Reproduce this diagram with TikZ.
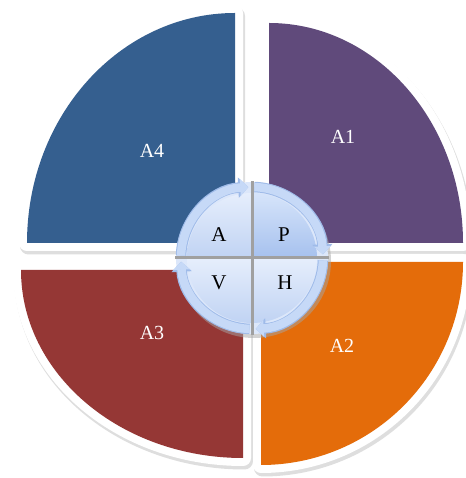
\documentclass[tikz,border=0pt]{standalone}
\usepackage{fontspec}
\setmainfont{Liberation Serif}
\usetikzlibrary{arrows.meta}
\definecolor{cAone}{HTML}{604A7B}
\definecolor{cAtwo}{HTML}{E46C0A}
\definecolor{cAthree}{HTML}{953735}
\definecolor{cAfour}{HTML}{355F8F}
\definecolor{ringc}{HTML}{C6D9F7}
\definecolor{ringe}{HTML}{9FBBE9}
\definecolor{basec}{HTML}{DCE7FA}
\definecolor{gapc}{HTML}{A0A0A0}
\definecolor{qtop}{HTML}{E6EEFC}
\definecolor{qbot}{HTML}{C0D3F3}
\definecolor{ptop}{HTML}{D6E4FA}
\definecolor{pbot}{HTML}{A6C1EE}
\begin{document}
\begin{tikzpicture}[x=1pt,y=1pt,
  sectorlabel/.style={text=white,font=\fontsize{20}{24}\selectfont,inner sep=0pt},
  quadlabel/.style={text=black,font=\fontsize{21}{24}\selectfont,inner sep=0pt},
  secshadow/.style={draw=black!13,line width=17pt,line join=round},
  secborder/.style={draw=white,line width=16pt,line join=round},
  ringedge/.style={draw=ringe,line width=10.5pt,-{Triangle[width=20pt,length=10pt]}},
  ringarrow/.style={draw=ringc,line width=8.5pt,-{Triangle[width=16.5pt,length=8pt]}},
  gapline/.style={draw=gapc,line width=3pt}]
\useasboundingbox (0,0) rectangle (465,478);
% sector shadows
\foreach \cx/\cy/\rx/\ry/\sa/\ea in {235/235/208/230/90/180,269/235/194/220/90/0,261/216/202/203/0/-90,243/208/222/188/270/180}{
  \draw[secshadow,shift={(1.5,-3)}] (\cx,\cy) -- ++(\sa:\rx pt and \ry pt) arc[start angle=\sa,end angle=\ea,x radius=\rx pt,y radius=\ry pt] -- cycle;
}
% white borders
\foreach \cx/\cy/\rx/\ry/\sa/\ea in {235/235/208/230/90/180,269/235/194/220/90/0,261/216/202/203/0/-90,243/208/222/188/270/180}{
  \draw[secborder] (\cx,\cy) -- ++(\sa:\rx pt and \ry pt) arc[start angle=\sa,end angle=\ea,x radius=\rx pt,y radius=\ry pt] -- cycle;
}
% fills
\foreach \cx/\cy/\rx/\ry/\sa/\ea/\col in {235/235/208/230/90/180/cAfour,269/235/194/220/90/0/cAone,261/216/202/203/0/-90/cAtwo,243/208/222/188/270/180/cAthree}{
  \fill[\col] (\cx,\cy) -- ++(\sa:\rx pt and \ry pt) arc[start angle=\sa,end angle=\ea,x radius=\rx pt,y radius=\ry pt] -- cycle;
}
% sector labels
\node[sectorlabel] (a4) at (152,327) {A4};
\node[sectorlabel] (a1) at (343,341) {A1};
\node[sectorlabel] (a2) at (342,132) {A2};
\node[sectorlabel] (a3) at (152,145) {A3};
% central circle
\coordinate (c) at (252,220);
\fill[black!35,opacity=0.5] ([shift={(2,-3)}]c) circle[radius=77pt];
\fill[basec] (c) circle[radius=76pt];
\shade[top color=qtop,bottom color=qbot] (c) -- ++(90:65pt) arc[start angle=90,end angle=180,radius=65pt] -- cycle;
\shade[top color=ptop,bottom color=pbot] (c) -- ++(0:65pt) arc[start angle=0,end angle=90,radius=65pt] -- cycle;
\shade[top color=qtop,bottom color=qbot] (c) -- ++(180:65pt) arc[start angle=180,end angle=270,radius=65pt] -- cycle;
\shade[top color=qtop,bottom color=qbot] (c) -- ++(270:65pt) arc[start angle=270,end angle=360,radius=65pt] -- cycle;
\draw[gapline] ([xshift=-77pt]c) -- ([xshift=77pt]c);
\draw[gapline] ([yshift=-77pt]c) -- ([yshift=77pt]c);
% ring arrows (clockwise)
\foreach \s/\e in {178/93,88/3,-2/-87,-92/-177}{
  \draw[ringedge] ([shift={(\s:71pt)}]c) arc[start angle=\s,end angle=\e,radius=71pt];
}
\foreach \s/\e in {178/93,88/3,-2/-87,-92/-177}{
  \draw[ringarrow] ([shift={(\s:71pt)}]c) arc[start angle=\s,end angle=\e,radius=71pt];
}
% quadrant labels
\node[quadlabel] (qa) at (219,243) {A};
\node[quadlabel] (qp) at (284,243) {P};
\node[quadlabel] (qv) at (219,195) {V};
\node[quadlabel] (qh) at (285,195) {H};
\end{tikzpicture}
\end{document}
